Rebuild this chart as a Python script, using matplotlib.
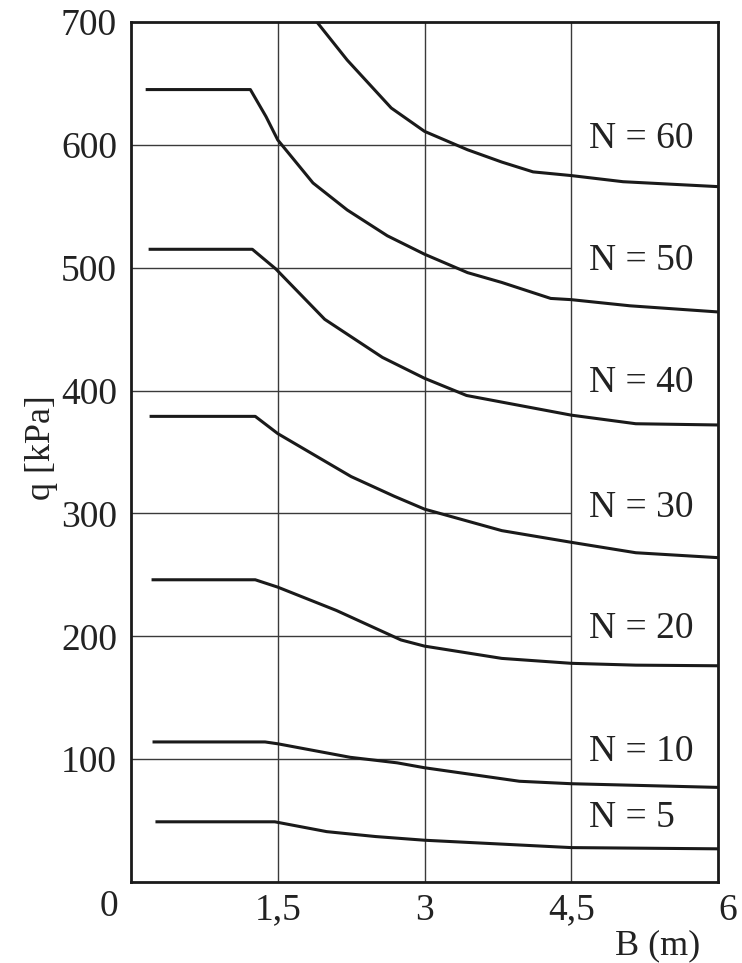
import matplotlib
matplotlib.use("Agg")
import matplotlib.pyplot as plt
from matplotlib.transforms import ScaledTranslation

# ---- data ----
x_ticks = [1.5, 3, 4.5, 6]
x_tick_labels = ["1,5", "3", "4,5", "6"]
y_ticks = [100, 200, 300, 400, 500, 600, 700]
y_tick_labels = ["100", "200", "300", "400", "500", "600", "700"]

B_n5 = [0.25, 1.47, 2.0, 2.5, 3.0, 4.5, 6.0]
q_n5 = [49, 49, 41, 37, 34, 28, 27]

B_n10 = [0.22, 1.37, 1.5, 2.24, 2.72, 3.0, 3.97, 4.5, 6.0]
q_n10 = [114, 114, 112.5, 101.5, 97, 93, 82, 80, 77]

B_n20 = [0.21, 1.27, 1.5, 2.1, 2.76, 3.0, 3.79, 4.5, 5.16, 6.0]
q_n20 = [246, 246, 240, 221, 197, 192, 182, 178, 176.5, 176]

B_n30 = [0.19, 1.27, 1.5, 2.25, 2.69, 3.0, 3.79, 4.5, 5.16, 6.0]
q_n30 = [379, 379, 365, 330, 314, 303.5, 286, 276.5, 268, 264]

B_n40 = [0.18, 1.24, 1.48, 1.98, 2.57, 3.0, 3.43, 4.5, 5.16, 6.0]
q_n40 = [515, 515, 499, 458, 427, 410, 396, 380, 373, 372]

B_n50 = [0.15, 1.22, 1.38, 1.5, 1.86, 2.21, 2.62, 3.0, 3.44, 3.79, 4.29, 4.5, 5.1, 6.0]
q_n50 = [645, 645, 623, 604, 569, 547, 526, 511, 496, 488, 475, 474, 469, 464]

B_n60 = [1.90, 2.21, 2.66, 3.0, 3.44, 3.79, 4.11, 4.5, 5.03, 6.0]
q_n60 = [700, 669, 630, 611, 596, 586, 578, 575, 570, 566]

curve_labels = ["N = 5", "N = 10", "N = 20", "N = 30", "N = 40", "N = 50", "N = 60"]
label_q = [52, 106, 206, 305, 406, 506, 605]

# ---- figure ----
plt.rcParams['font.family'] = ['Liberation Serif', 'DejaVu Serif']
fig = plt.figure(figsize=(7.42, 9.63), dpi=100)
ax = fig.add_axes([131/742, 1 - 882/963, (718 - 131)/742, (882 - 22)/963])

ax.set_xlim(0, 6)
ax.set_ylim(0, 700)

line_col = "#1a1a1a"
grid_col = "#3a3a3a"
text_col = "#222222"

# grid: vertical full height, horizontal only up to 4.5
ax.vlines([1.5, 3, 4.5], 0, 700, colors=grid_col, linewidth=1.0, zorder=1)
ax.hlines([100, 200, 300, 400, 500, 600], 0, 4.5, colors=grid_col, linewidth=1.0, zorder=1)

for B, q in [(B_n5, q_n5), (B_n10, q_n10), (B_n20, q_n20), (B_n30, q_n30),
             (B_n40, q_n40), (B_n50, q_n50), (B_n60, q_n60)]:
    ax.plot(B, q, color=line_col, linewidth=2.2, solid_capstyle='butt',
            solid_joinstyle='round', zorder=3, clip_on=True)

for lab, qy in zip(curve_labels, label_q):
    ax.text(4.68, qy, lab, ha='left', va='center', fontsize=27, color=text_col,
            zorder=4)

for s in ax.spines.values():
    s.set_linewidth(2.0)
    s.set_color(line_col)

ax.set_xticks(x_ticks)
ax.set_xticklabels(x_tick_labels)
ax.set_yticks(y_ticks)
ax.set_yticklabels(y_tick_labels)
ax.tick_params(axis='both', length=0, labelsize=27, colors=text_col)
ax.tick_params(axis='y', pad=10)
ax.tick_params(axis='x', pad=8)

# the last x label sits a little right of the frame in the reference
lab6 = ax.get_xticklabels()[-1]
lab6.set_transform(lab6.get_transform() + ScaledTranslation(10/100, 0, fig.dpi_scale_trans))

# corner "0" label
ax.text(-0.23, -0.009, "0", transform=ax.get_xaxis_transform(),
        ha='center', va='top', fontsize=27, color=text_col)

fig.text(658/742, 1 - 946/963, "B (m)", ha='center', va='center',
         fontsize=26, color=text_col)
fig.text(42/742, 1 - 448/963, "q [kPa]", ha='center', va='center',
         rotation=90, fontsize=26, color=text_col)

fig.savefig("out.png", dpi=100, facecolor="white")
